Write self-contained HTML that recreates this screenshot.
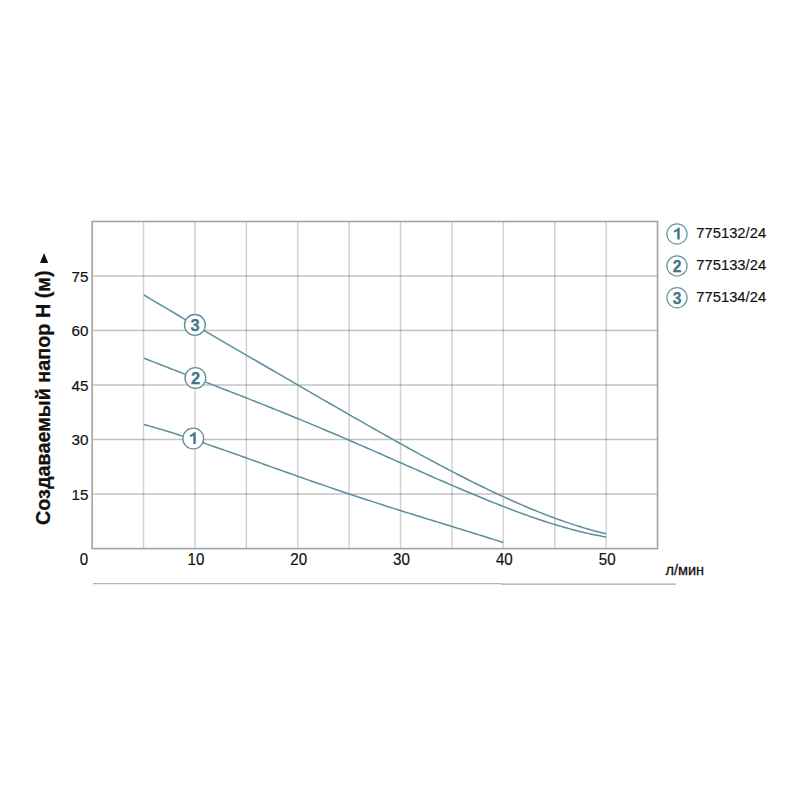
<!DOCTYPE html>
<html><head><meta charset="utf-8"><style>
html,body{margin:0;padding:0;background:#fff;width:800px;height:800px;overflow:hidden}
svg{position:absolute;left:0;top:0;font-family:"Liberation Sans",sans-serif}
</style></head><body>
<svg width="800" height="800" viewBox="0 0 800 800">
<line x1="143.55" y1="221.50" x2="143.55" y2="548.62" stroke="rgba(0,0,0,0.18)" stroke-width="1.5"/>
<line x1="194.95" y1="221.50" x2="194.95" y2="548.62" stroke="rgba(0,0,0,0.18)" stroke-width="1.5"/>
<line x1="246.35" y1="221.50" x2="246.35" y2="548.62" stroke="rgba(0,0,0,0.18)" stroke-width="1.5"/>
<line x1="297.75" y1="221.50" x2="297.75" y2="548.62" stroke="rgba(0,0,0,0.18)" stroke-width="1.5"/>
<line x1="349.15" y1="221.50" x2="349.15" y2="548.62" stroke="rgba(0,0,0,0.18)" stroke-width="1.5"/>
<line x1="400.55" y1="221.50" x2="400.55" y2="548.62" stroke="rgba(0,0,0,0.18)" stroke-width="1.5"/>
<line x1="451.95" y1="221.50" x2="451.95" y2="548.62" stroke="rgba(0,0,0,0.18)" stroke-width="1.5"/>
<line x1="503.35" y1="221.50" x2="503.35" y2="548.62" stroke="rgba(0,0,0,0.18)" stroke-width="1.5"/>
<line x1="554.75" y1="221.50" x2="554.75" y2="548.62" stroke="rgba(0,0,0,0.18)" stroke-width="1.5"/>
<line x1="606.15" y1="221.50" x2="606.15" y2="548.62" stroke="rgba(0,0,0,0.18)" stroke-width="1.5"/>
<line x1="92.15" y1="276.02" x2="657.55" y2="276.02" stroke="rgba(0,0,0,0.24)" stroke-width="1.5"/>
<line x1="92.15" y1="330.54" x2="657.55" y2="330.54" stroke="rgba(0,0,0,0.24)" stroke-width="1.5"/>
<line x1="92.15" y1="385.06" x2="657.55" y2="385.06" stroke="rgba(0,0,0,0.24)" stroke-width="1.5"/>
<line x1="92.15" y1="439.58" x2="657.55" y2="439.58" stroke="rgba(0,0,0,0.24)" stroke-width="1.5"/>
<line x1="92.15" y1="494.10" x2="657.55" y2="494.10" stroke="rgba(0,0,0,0.24)" stroke-width="1.5"/>
<rect x="92.15" y="221.50" width="565.40" height="327.12" fill="none" stroke="#a3a3a3" stroke-width="1.6"/>
<path d="M143.80,424.49 L146.80,425.31 L149.80,426.14 L152.80,426.99 L155.80,427.85 L158.80,428.72 L161.80,429.61 L164.80,430.51 L167.80,431.42 L170.80,432.34 L173.80,433.27 L176.80,434.21 L179.80,435.16 L182.80,436.12 L185.80,437.10 L188.80,438.07 L191.80,439.06 L194.80,440.06 L197.80,441.06 L200.80,442.07 L203.80,443.08 L206.80,444.11 L209.80,445.13 L212.80,446.17 L215.80,447.20 L218.80,448.24 L221.80,449.29 L224.80,450.34 L227.80,451.39 L230.80,452.45 L233.80,453.51 L236.80,454.57 L239.80,455.64 L242.80,456.70 L245.80,457.77 L248.80,458.84 L251.80,459.91 L254.80,460.98 L257.80,462.05 L260.80,463.13 L263.80,464.20 L266.80,465.27 L269.80,466.34 L272.80,467.41 L275.80,468.48 L278.80,469.55 L281.80,470.62 L284.80,471.68 L287.80,472.75 L290.80,473.81 L293.80,474.87 L296.80,475.93 L299.80,476.99 L302.80,478.04 L305.80,479.09 L308.80,480.14 L311.80,481.19 L314.80,482.23 L317.80,483.27 L320.80,484.31 L323.80,485.34 L326.80,486.37 L329.80,487.40 L332.80,488.42 L335.80,489.44 L338.80,490.46 L341.80,491.47 L344.80,492.48 L347.80,493.49 L350.80,494.49 L353.80,495.49 L356.80,496.48 L359.80,497.47 L362.80,498.46 L365.80,499.44 L368.80,500.42 L371.80,501.40 L374.80,502.37 L377.80,503.34 L380.80,504.31 L383.80,505.27 L386.80,506.23 L389.80,507.19 L392.80,508.14 L395.80,509.09 L398.80,510.04 L401.80,510.98 L404.80,511.92 L407.80,512.86 L410.80,513.80 L413.80,514.73 L416.80,515.66 L419.80,516.59 L422.80,517.52 L425.80,518.45 L428.80,519.37 L431.80,520.30 L434.80,521.22 L437.80,522.14 L440.80,523.07 L443.80,523.99 L446.80,524.91 L449.80,525.83 L452.80,526.75 L455.80,527.68 L458.80,528.60 L461.80,529.52 L464.80,530.45 L467.80,531.38 L470.80,532.31 L473.80,533.24 L476.80,534.17 L479.80,535.11 L482.80,536.05 L485.80,536.99 L488.80,537.94 L491.80,538.89 L494.80,539.85 L497.80,540.81 L500.80,541.78 L503.20,542.56" fill="none" stroke="#5a8f9d" stroke-width="1.5" stroke-linejoin="round"/>
<path d="M143.80,358.09 L146.80,359.29 L149.80,360.48 L152.80,361.67 L155.80,362.85 L158.80,364.03 L161.80,365.20 L164.80,366.38 L167.80,367.54 L170.80,368.71 L173.80,369.88 L176.80,371.04 L179.80,372.20 L182.80,373.36 L185.80,374.52 L188.80,375.67 L191.80,376.83 L194.80,377.98 L197.80,379.14 L200.80,380.29 L203.80,381.45 L206.80,382.60 L209.80,383.76 L212.80,384.91 L215.80,386.07 L218.80,387.23 L221.80,388.39 L224.80,389.55 L227.80,390.71 L230.80,391.88 L233.80,393.05 L236.80,394.21 L239.80,395.38 L242.80,396.56 L245.80,397.73 L248.80,398.91 L251.80,400.09 L254.80,401.28 L257.80,402.46 L260.80,403.65 L263.80,404.85 L266.80,406.04 L269.80,407.24 L272.80,408.44 L275.80,409.65 L278.80,410.86 L281.80,412.07 L284.80,413.29 L287.80,414.51 L290.80,415.73 L293.80,416.96 L296.80,418.19 L299.80,419.43 L302.80,420.67 L305.80,421.91 L308.80,423.15 L311.80,424.40 L314.80,425.66 L317.80,426.91 L320.80,428.18 L323.80,429.44 L326.80,430.71 L329.80,431.98 L332.80,433.25 L335.80,434.53 L338.80,435.81 L341.80,437.10 L344.80,438.39 L347.80,439.68 L350.80,440.97 L353.80,442.27 L356.80,443.57 L359.80,444.87 L362.80,446.18 L365.80,447.48 L368.80,448.79 L371.80,450.10 L374.80,451.42 L377.80,452.73 L380.80,454.05 L383.80,455.37 L386.80,456.69 L389.80,458.01 L392.80,459.33 L395.80,460.65 L398.80,461.98 L401.80,463.30 L404.80,464.62 L407.80,465.95 L410.80,467.27 L413.80,468.60 L416.80,469.92 L419.80,471.24 L422.80,472.56 L425.80,473.88 L428.80,475.20 L431.80,476.51 L434.80,477.82 L437.80,479.13 L440.80,480.44 L443.80,481.74 L446.80,483.05 L449.80,484.34 L452.80,485.64 L455.80,486.92 L458.80,488.21 L461.80,489.49 L464.80,490.76 L467.80,492.03 L470.80,493.29 L473.80,494.55 L476.80,495.80 L479.80,497.04 L482.80,498.27 L485.80,499.50 L488.80,500.72 L491.80,501.93 L494.80,503.13 L497.80,504.32 L500.80,505.50 L503.80,506.67 L506.80,507.83 L509.80,508.98 L512.80,510.11 L515.80,511.24 L518.80,512.35 L521.80,513.45 L524.80,514.54 L527.80,515.61 L530.80,516.67 L533.80,517.71 L536.80,518.74 L539.80,519.75 L542.80,520.75 L545.80,521.73 L548.80,522.69 L551.80,523.63 L554.80,524.56 L557.80,525.46 L560.80,526.35 L563.80,527.22 L566.80,528.06 L569.80,528.89 L572.80,529.69 L575.80,530.47 L578.80,531.23 L581.80,531.97 L584.80,532.68 L587.80,533.36 L590.80,534.02 L593.80,534.66 L596.80,535.27 L599.80,535.85 L602.80,536.40 L605.80,536.93 L606.00,536.96" fill="none" stroke="#5a8f9d" stroke-width="1.5" stroke-linejoin="round"/>
<path d="M143.80,294.97 L146.80,296.76 L149.80,298.54 L152.80,300.33 L155.80,302.11 L158.80,303.89 L161.80,305.66 L164.80,307.43 L167.80,309.21 L170.80,310.97 L173.80,312.74 L176.80,314.51 L179.80,316.27 L182.80,318.03 L185.80,319.79 L188.80,321.55 L191.80,323.31 L194.80,325.06 L197.80,326.82 L200.80,328.57 L203.80,330.32 L206.80,332.08 L209.80,333.83 L212.80,335.58 L215.80,337.33 L218.80,339.07 L221.80,340.82 L224.80,342.57 L227.80,344.32 L230.80,346.06 L233.80,347.81 L236.80,349.56 L239.80,351.30 L242.80,353.05 L245.80,354.79 L248.80,356.53 L251.80,358.28 L254.80,360.02 L257.80,361.77 L260.80,363.51 L263.80,365.25 L266.80,367.00 L269.80,368.74 L272.80,370.48 L275.80,372.22 L278.80,373.97 L281.80,375.71 L284.80,377.45 L287.80,379.19 L290.80,380.93 L293.80,382.67 L296.80,384.41 L299.80,386.15 L302.80,387.89 L305.80,389.63 L308.80,391.36 L311.80,393.10 L314.80,394.84 L317.80,396.57 L320.80,398.31 L323.80,400.04 L326.80,401.77 L329.80,403.50 L332.80,405.23 L335.80,406.96 L338.80,408.69 L341.80,410.41 L344.80,412.14 L347.80,413.86 L350.80,415.58 L353.80,417.30 L356.80,419.01 L359.80,420.72 L362.80,422.44 L365.80,424.14 L368.80,425.85 L371.80,427.55 L374.80,429.25 L377.80,430.95 L380.80,432.65 L383.80,434.34 L386.80,436.02 L389.80,437.71 L392.80,439.39 L395.80,441.06 L398.80,442.73 L401.80,444.40 L404.80,446.06 L407.80,447.72 L410.80,449.37 L413.80,451.02 L416.80,452.66 L419.80,454.30 L422.80,455.93 L425.80,457.55 L428.80,459.17 L431.80,460.78 L434.80,462.39 L437.80,463.99 L440.80,465.58 L443.80,467.16 L446.80,468.74 L449.80,470.31 L452.80,471.87 L455.80,473.42 L458.80,474.97 L461.80,476.50 L464.80,478.03 L467.80,479.54 L470.80,481.05 L473.80,482.55 L476.80,484.04 L479.80,485.51 L482.80,486.98 L485.80,488.43 L488.80,489.88 L491.80,491.31 L494.80,492.73 L497.80,494.14 L500.80,495.53 L503.80,496.91 L506.80,498.28 L509.80,499.64 L512.80,500.98 L515.80,502.31 L518.80,503.62 L521.80,504.92 L524.80,506.20 L527.80,507.47 L530.80,508.72 L533.80,509.96 L536.80,511.18 L539.80,512.38 L542.80,513.56 L545.80,514.73 L548.80,515.88 L551.80,517.01 L554.80,518.12 L557.80,519.22 L560.80,520.29 L563.80,521.34 L566.80,522.37 L569.80,523.39 L572.80,524.38 L575.80,525.35 L578.80,526.29 L581.80,527.22 L584.80,528.12 L587.80,529.00 L590.80,529.86 L593.80,530.69 L596.80,531.49 L599.80,532.28 L602.80,533.03 L605.80,533.76 L606.00,533.81" fill="none" stroke="#5a8f9d" stroke-width="1.5" stroke-linejoin="round"/>
<circle cx="193.25" cy="438.5" r="10.4" fill="#fff" stroke="#618f9a" stroke-width="1.35"/>
<path d="M195.75,432.30 L193.85,432.30 C192.95,433.90 191.45,434.70 189.85,435.00 L189.85,437.00 C191.15,436.80 192.35,436.30 193.35,435.60 L193.35,444.10 L195.75,444.10 Z" fill="#437689"/>
<circle cx="195.4" cy="378.0" r="10.4" fill="#fff" stroke="#618f9a" stroke-width="1.35"/>
<text x="195.70000000000002" y="384.0" text-anchor="middle" font-size="16.5" font-weight="bold" fill="#437689" stroke="#437689" stroke-width="0.28">2</text>
<circle cx="194.9" cy="324.9" r="10.4" fill="#fff" stroke="#618f9a" stroke-width="1.35"/>
<text x="195.20000000000002" y="330.9" text-anchor="middle" font-size="16.5" font-weight="bold" fill="#437689" stroke="#437689" stroke-width="0.28">3</text>
<text transform="translate(88.4,281.62) scale(0.99,1.0)" text-anchor="end" font-size="15.4" fill="#111" stroke="#111" stroke-width="0.18">75</text>
<text transform="translate(88.4,336.14) scale(0.99,1.0)" text-anchor="end" font-size="15.4" fill="#111" stroke="#111" stroke-width="0.18">60</text>
<text transform="translate(88.4,390.66) scale(0.99,1.0)" text-anchor="end" font-size="15.4" fill="#111" stroke="#111" stroke-width="0.18">45</text>
<text transform="translate(88.4,445.18) scale(0.99,1.0)" text-anchor="end" font-size="15.4" fill="#111" stroke="#111" stroke-width="0.18">30</text>
<text transform="translate(88.4,499.70) scale(0.99,1.0)" text-anchor="end" font-size="15.4" fill="#111" stroke="#111" stroke-width="0.18">15</text>
<text transform="translate(83.9,564.6) scale(0.99,1.05)" text-anchor="middle" font-size="15.3" fill="#111" stroke="#111" stroke-width="0.18">0</text>
<text transform="translate(195.95,564.6) scale(0.99,1.05)" text-anchor="middle" font-size="15.3" fill="#111" stroke="#111" stroke-width="0.18">10</text>
<text transform="translate(298.75,564.6) scale(0.99,1.05)" text-anchor="middle" font-size="15.3" fill="#111" stroke="#111" stroke-width="0.18">20</text>
<text transform="translate(401.55,564.6) scale(0.99,1.05)" text-anchor="middle" font-size="15.3" fill="#111" stroke="#111" stroke-width="0.18">30</text>
<text transform="translate(504.35,564.6) scale(0.99,1.05)" text-anchor="middle" font-size="15.3" fill="#111" stroke="#111" stroke-width="0.18">40</text>
<text transform="translate(607.15,564.6) scale(0.99,1.05)" text-anchor="middle" font-size="15.3" fill="#111" stroke="#111" stroke-width="0.18">50</text>
<text x="665.5" y="575.3" font-size="14.5" fill="#111" stroke="#111" stroke-width="0.3">л/мин</text>
<line x1="93" y1="583.6" x2="501" y2="583.6" stroke="#b4b4b4" stroke-width="1.3"/>
<line x1="501" y1="584.2" x2="676" y2="584.2" stroke="#a8a8a8" stroke-width="1.3"/>
<text transform="translate(50.2,525) rotate(-90)" font-size="19.8" font-weight="bold" fill="#111" stroke="#111" stroke-width="0.25">Создаваемый напор H (м)</text>
<path d="M40,263 L48.2,263 L44.1,253 Z" fill="#111"/>
<circle cx="677" cy="234.00" r="10.1" fill="#fff" stroke="#6c96a1" stroke-width="1.2"/>
<path d="M679.70,227.80 L677.80,227.80 C676.90,229.40 675.40,230.20 673.80,230.50 L673.80,232.50 C675.10,232.30 676.30,231.80 677.30,231.10 L677.30,239.60 L679.70,239.60 Z" fill="#437689"/>
<text transform="translate(696.3,238.20) scale(0.985,1.03)" font-size="15" fill="#111" stroke="#111" stroke-width="0.15">775132/24</text>
<circle cx="677" cy="265.90" r="10.1" fill="#fff" stroke="#6c96a1" stroke-width="1.2"/>
<text x="677.2" y="271.60" text-anchor="middle" font-size="15.6" font-weight="bold" fill="#437689" stroke="#437689" stroke-width="0.28">2</text>
<text transform="translate(696.3,270.10) scale(0.985,1.03)" font-size="15" fill="#111" stroke="#111" stroke-width="0.15">775133/24</text>
<circle cx="677" cy="297.80" r="10.1" fill="#fff" stroke="#6c96a1" stroke-width="1.2"/>
<text x="677.2" y="303.50" text-anchor="middle" font-size="15.6" font-weight="bold" fill="#437689" stroke="#437689" stroke-width="0.28">3</text>
<text transform="translate(696.3,302.00) scale(0.985,1.03)" font-size="15" fill="#111" stroke="#111" stroke-width="0.15">775134/24</text>
</svg>
</body></html>
